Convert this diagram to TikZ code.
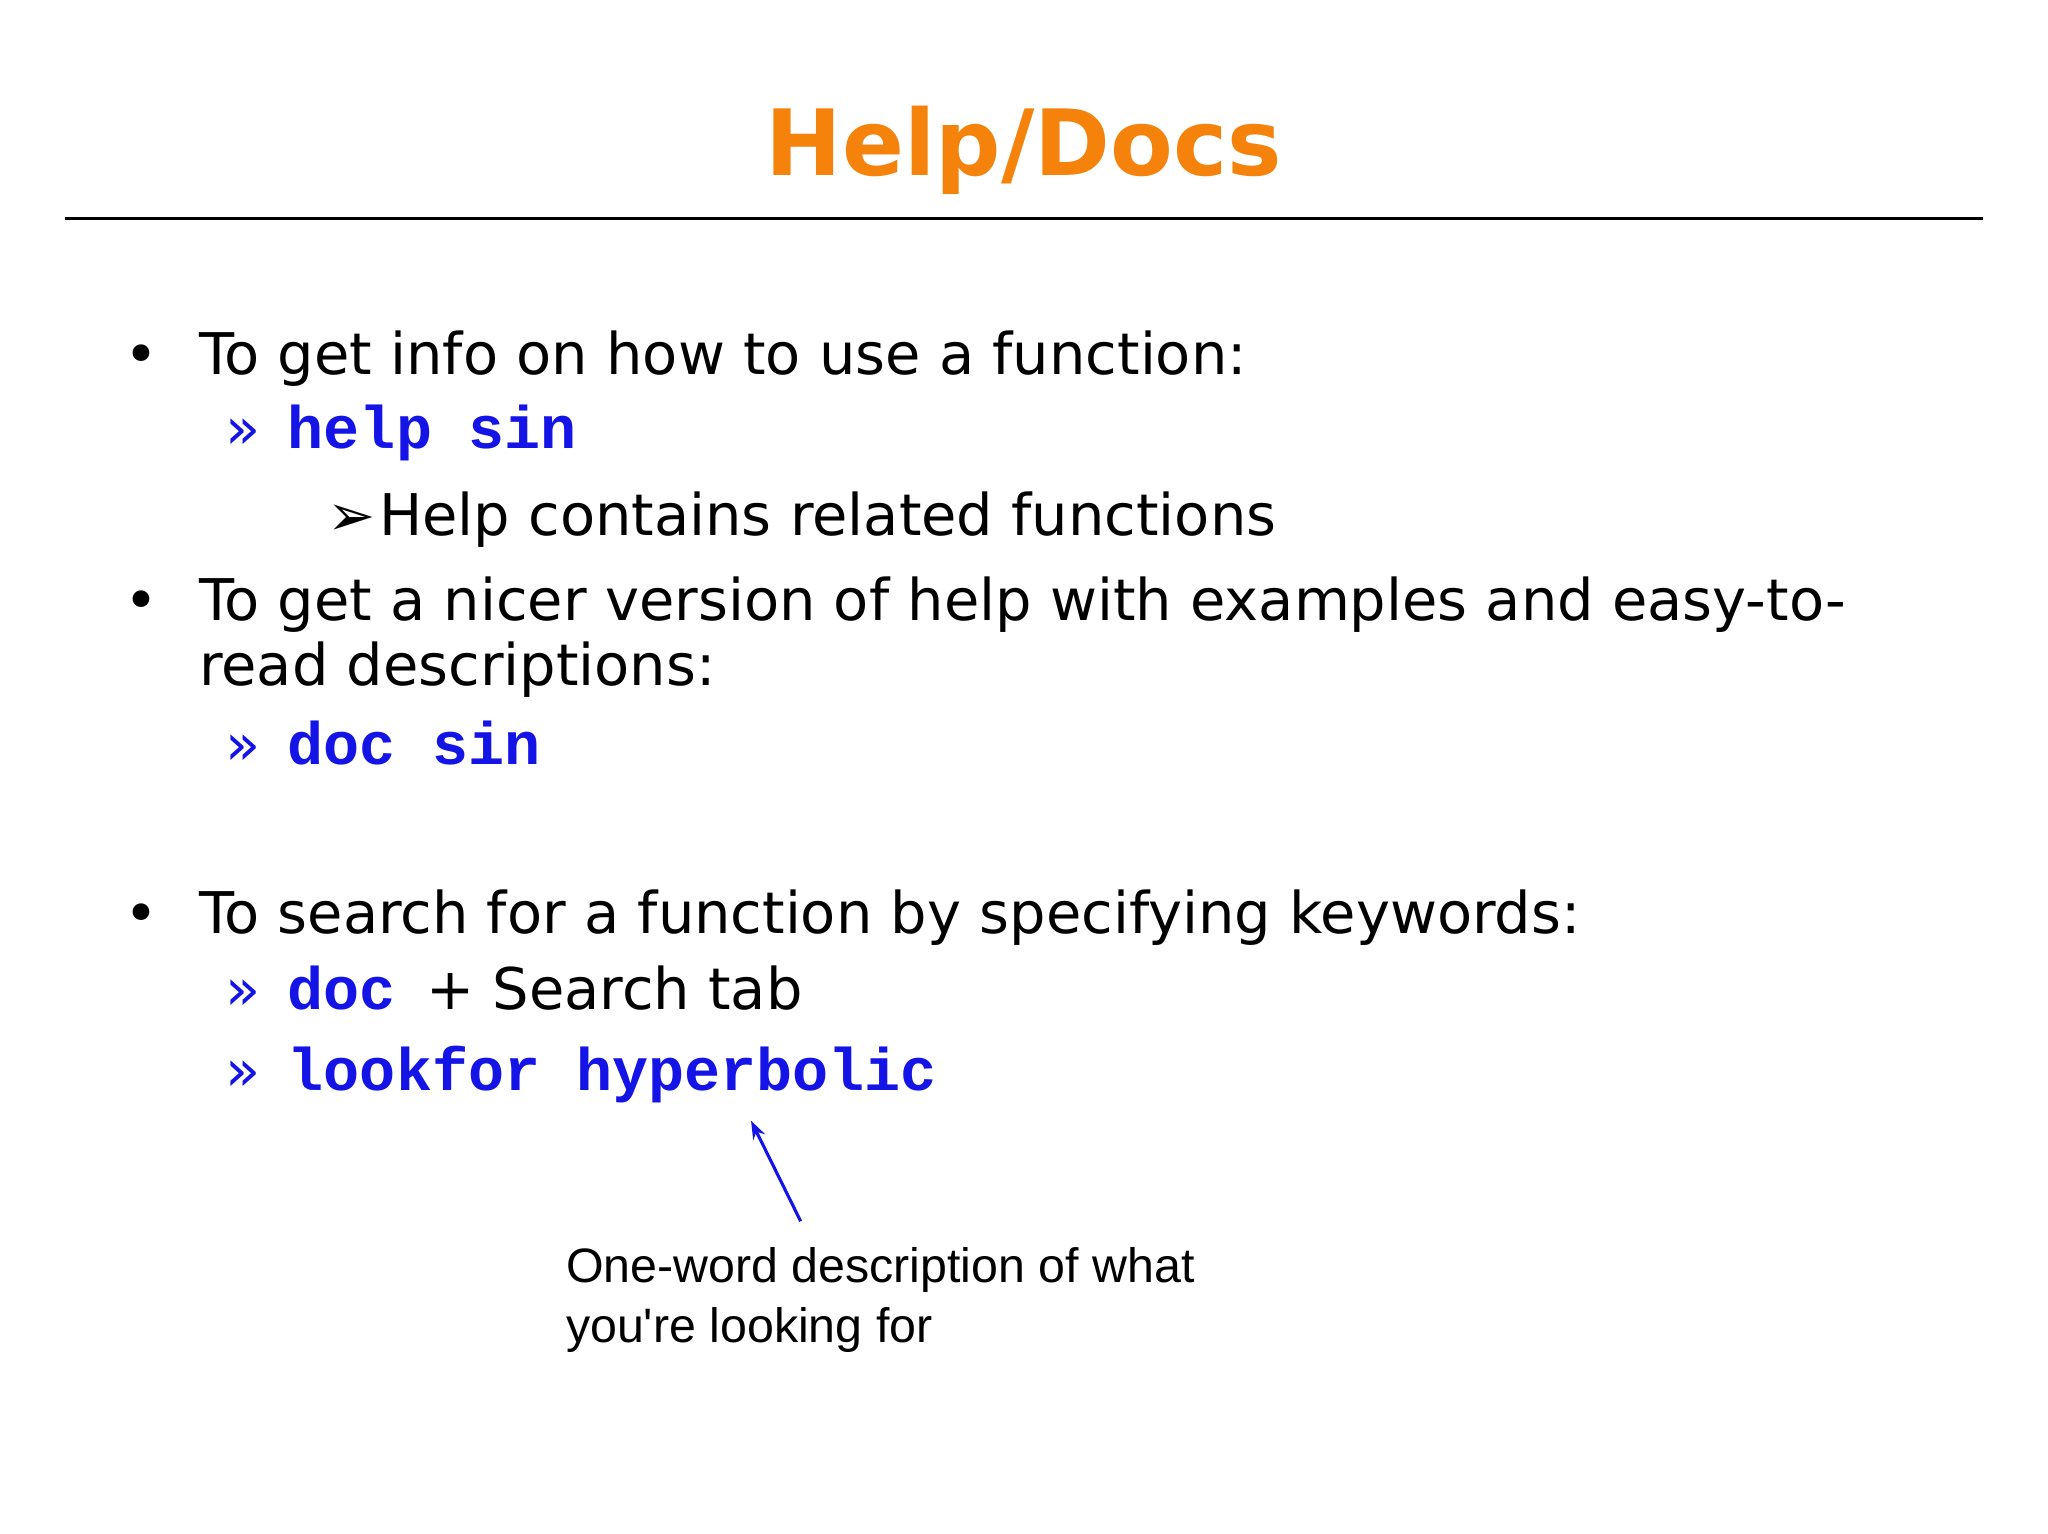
\documentclass[tikz,border=0pt]{standalone}
\usepackage{fontspec}
\setmainfont{DejaVu Sans}
\newfontfamily\codef{Liberation Mono}
\newfontfamily\annf{Liberation Sans}
\usetikzlibrary{arrows.meta}
\definecolor{ttl}{RGB}{245,130,10}
\definecolor{cblue}{RGB}{20,20,230}
\tikzset{
 body/.style={anchor=base west,inner sep=0pt,font=\fontsize{22}{26}\selectfont},
 code/.style={anchor=base west,inner sep=0pt,text=cblue,font=\fontsize{23}{26}\codef\bfseries},
 ann/.style={anchor=base west,inner sep=0pt,font=\fontsize{18.5}{22}\annf},
}
\begin{document}
\begin{tikzpicture}[x=0.5pt,y=-0.5pt]
\useasboundingbox (0,0) rectangle (1568,1174);
\fill[white] (0,0) rectangle (1568,1174);
\node[anchor=base,inner sep=0pt,text=ttl,font=\fontsize{35}{40}\selectfont\bfseries] (title) at (784,134) {Help/Docs};
\coordinate (l1) at (50,167); \coordinate (l2) at (1518,167);
\draw[line width=1.2pt] (l1) -- (l2);
\node[body] (b1) at (95,287) {•};
\node[body] (t1) at (152,287) {To get info on how to use a function:};
\node[body,text=cblue] (r1) at (172,343) {»};
\node[code] (c1) at (220,343) {help sin};
\node[body] (a1) at (250,410) {➢};
\node[body] (t2) at (290,410) {Help contains related functions};
\node[body] (b2) at (95,475) {•};
\node[body] (t3) at (152,475) {To get a nicer version of help with examples and easy-to-};
\node[body] (t4) at (152,525) {read descriptions:};
\node[body,text=cblue] (r2) at (172,585) {»};
\node[code] (c2) at (220,585) {doc sin};
\node[body] (b3) at (95,715) {•};
\node[body] (t5) at (152,715) {To search for a function by specifying keywords:};
\node[body,text=cblue] (r3) at (172,773) {»};
\node[code] (c3) at (220,773) {doc};
\node[body] (t6) at (326,773) {+ Search tab};
\node[body,text=cblue] (r4) at (172,835) {»};
\node[code] (c4) at (220,835) {lookfor hyperbolic};
\node[ann] (n1) at (433,982) {One-word description of what};
\node[ann] (n2) at (433,1028) {you're looking for};
\coordinate (p1) at (613,935); \coordinate (p2) at (575,858);
\draw[cblue,line width=1.2pt,-{Stealth[length=7pt,width=5pt]}] (p1) -- (p2);
\end{tikzpicture}
\end{document}
